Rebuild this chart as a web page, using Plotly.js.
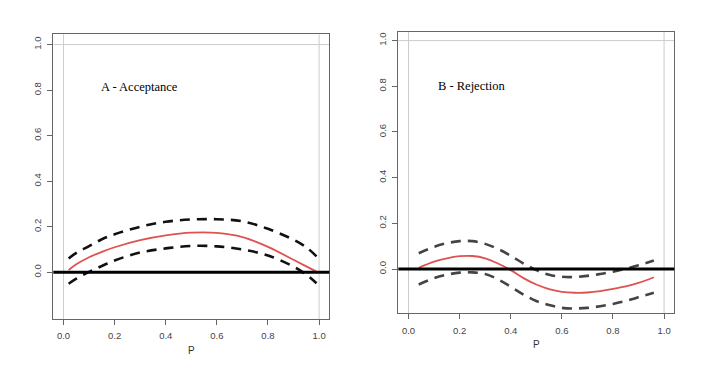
<!DOCTYPE html>
<html>
<head>
<meta charset="utf-8">
<script src="https://cdn.plot.ly/plotly-3.0.1.min.js"></script>
<style>
  html, body { margin: 0; padding: 0; background: #fff; }
  #plot { width: 710px; height: 380px; }
</style>
</head>
<body>
<div id="plot"></div>
<script>
// Panel A - Acceptance
var pA = [0.02, 0.05, 0.1, 0.15, 0.2, 0.3, 0.4, 0.5, 0.6, 0.7, 0.8, 0.9, 0.95, 0.99];
var fitA = [0.01, 0.035, 0.066, 0.09, 0.11, 0.141, 0.162, 0.174, 0.173, 0.155, 0.112, 0.055, 0.026, 0.003];
var upperA = [0.061, 0.085, 0.115, 0.145, 0.167, 0.2, 0.222, 0.232, 0.233, 0.224, 0.191, 0.143, 0.11, 0.07];
var lowerA = [-0.05, -0.028, 0.002, 0.028, 0.052, 0.087, 0.105, 0.116, 0.114, 0.1, 0.074, 0.025, -0.01, -0.048];

// Panel B - Rejection
var pB = [0.04, 0.1, 0.15, 0.2, 0.25, 0.3, 0.35, 0.4, 0.45, 0.5, 0.55, 0.6, 0.65, 0.7, 0.75, 0.8, 0.85, 0.9, 0.96];
var fitB = [0.005, 0.032, 0.047, 0.056, 0.057, 0.047, 0.024, -0.005, -0.04, -0.068, -0.088, -0.1, -0.104, -0.103, -0.097, -0.087, -0.076, -0.061, -0.036];
var upperB = [0.069, 0.097, 0.113, 0.122, 0.122, 0.11, 0.088, 0.058, 0.024, -0.005, -0.025, -0.034, -0.035, -0.03, -0.022, -0.012, 0.001, 0.016, 0.037];
var lowerB = [-0.068, -0.04, -0.025, -0.016, -0.015, -0.022, -0.045, -0.078, -0.112, -0.14, -0.158, -0.17, -0.173, -0.17, -0.163, -0.153, -0.14, -0.124, -0.104];

var tickVals = [0, 0.2, 0.4, 0.6, 0.8, 1.0];
var refX = [0, 1];
var refY = [1];
var zeroY = 0;
var labels = ["A - Acceptance", "B - Rejection"];
var xLabel = "P";

var red = "#e05252";

function band(x, y, xa, ya, col) {
  return {x: x, y: y, xaxis: xa, yaxis: ya, mode: "lines", type: "scatter",
    line: {color: col, width: 2.6, dash: "10px,7px", shape: "spline"}, hoverinfo: "skip"};
}
function fit(x, y, xa, ya) {
  return {x: x, y: y, xaxis: xa, yaxis: ya, mode: "lines", type: "scatter",
    line: {color: red, width: 1.8, shape: "spline"}, hoverinfo: "skip"};
}

var data = [
  band(pA, upperA, "x", "y", "#111"),
  band(pA, lowerA, "x", "y", "#111"),
  fit(pA, fitA, "x", "y"),
  band(pB, upperB, "x2", "y2", "#444"),
  band(pB, lowerB, "x2", "y2", "#444"),
  fit(pB, fitB, "x2", "y2")
];

function xax(domain, anchor) {
  return {domain: domain, anchor: anchor, range: [-0.04, 1.04], tickvals: tickVals, tickformat: ".1f",
    showgrid: false, zeroline: false, showline: true, mirror: true, linecolor: "#666", linewidth: 1,
    ticks: "outside", ticklen: 5, tickcolor: "#666", ticklabelstandoff: 3,
    tickfont: {family: "Liberation Sans, Arial", size: 9.5, color: "#444"},
    title: {text: xLabel, font: {family: "Liberation Sans, Arial", size: 10, color: "#333"}, standoff: 6}};
}
function yax(domain, anchor, range) {
  return {domain: domain, anchor: anchor, range: range, tickvals: tickVals, tickformat: ".1f",
    showgrid: false, zeroline: false, showline: true, mirror: true, linecolor: "#666", linewidth: 1,
    ticks: "outside", ticklen: 5, tickcolor: "#666", tickangle: -90, ticklabelstandoff: 3,
    tickfont: {family: "Liberation Sans, Arial", size: 9.5, color: "#444"}};
}

var shapes = [];
[["x", "y"], ["x2", "y2"]].forEach(function (ax) {
  refX.forEach(function (v) {
    shapes.push({type: "line", xref: ax[0], yref: ax[1] + " domain", x0: v, x1: v, y0: 0, y1: 1,
      line: {color: "#cccccc", width: 1}, layer: "below"});
  });
  refY.forEach(function (v) {
    shapes.push({type: "line", xref: ax[0] + " domain", yref: ax[1], x0: 0, x1: 1, y0: v, y1: v,
      line: {color: "#cccccc", width: 1}, layer: "below"});
  });
  shapes.push({type: "line", xref: ax[0] + " domain", yref: ax[1], x0: 0, x1: 1, y0: zeroY, y1: zeroY,
    line: {color: "#000", width: 3}});
});

var layout = {
  width: 710, height: 380,
  margin: {l: 0, r: 0, t: 0, b: 0},
  paper_bgcolor: "#fff", plot_bgcolor: "#fff",
  showlegend: false,
  xaxis: xax([0.0751, 0.4638], "y"),
  yaxis: yax([0.1605, 0.9097], "x", [-0.205, 1.045]),
  xaxis2: xax([0.561, 0.9497], "y2"),
  yaxis2: yax([0.1755, 0.9166], "x2", [-0.194, 1.039]),
  shapes: shapes,
  annotations: [
    {xref: "x", yref: "y", x: 0.14, y: 0.813, xanchor: "left", yanchor: "middle", showarrow: false,
      text: labels[0], font: {family: "Liberation Serif, Times New Roman", size: 12.5, color: "#000"}},
    {xref: "x2", yref: "y2", x: 0.109, y: 0.803, xanchor: "left", yanchor: "middle", showarrow: false,
      text: labels[1], font: {family: "Liberation Serif, Times New Roman", size: 12.5, color: "#000"}}
  ]
};

Plotly.newPlot("plot", data, layout, {displayModeBar: false, staticPlot: true});
</script>
</body>
</html>
